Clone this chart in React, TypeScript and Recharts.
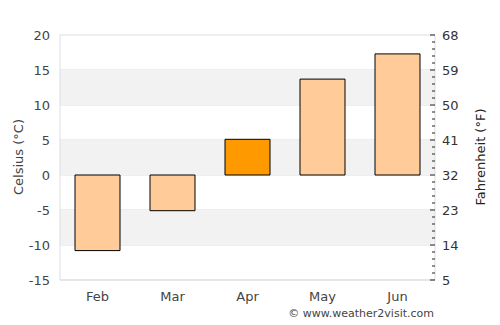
import { ComposedChart, Bar, Line, XAxis, YAxis, CartesianGrid, ReferenceArea, Cell } from "recharts";

const months = ["Feb", "Mar", "Apr", "May", "Jun"];
const celsius = [-10.8, -5.1, 5.1, 13.7, 17.3];
const highlightMonth = "Apr";

const celsiusTicks = [-15, -10, -5, 0, 5, 10, 15, 20];
// one mark per °C on the Fahrenheit side, labels every 9 °F
const fahrenheitMarks = Array.from({ length: 36 }, (_, i) => 5 + i * 1.8);
const shadedBands = [
  [10, 15],
  [0, 5],
  [-10, -5],
];

const data = months.map((m, i) => ({
  month: m,
  temp: celsius[i],
  tempF: celsius[i] * 1.8 + 32,
}));

const font = "DejaVu Sans, sans-serif";

function FTick(props: any) {
  const { x, y, payload } = props;
  const v = payload.value;
  const steps = (v - 5) / 9;
  const major = Math.abs(steps - Math.round(steps)) < 1e-6;
  return (
    <g>
      <line x1={x - (major ? 5 : 3)} x2={x} y1={y} y2={y} stroke="#222" strokeWidth={1} />
      {major && (
        <text x={x + 7} y={y} dy="0.35em" fontSize={13} fill="#333" fontFamily={font}>
          {Math.round(v)}
        </text>
      )}
    </g>
  );
}

export default function App() {
  return (
    <div style={{ position: "relative", width: 500, height: 325, margin: -8, fontFamily: font }}>
      <ComposedChart
        width={500}
        height={325}
        data={data}
        margin={{ top: 35, right: 0, bottom: 15, left: 0 }}
      >
        {shadedBands.map(([y1, y2]) => (
          <ReferenceArea
            key={y1}
            yAxisId="c"
            y1={y1}
            y2={y2}
            fill="#f2f2f2"
            fillOpacity={1}
            stroke="none"
          />
        ))}
        <CartesianGrid vertical={false} stroke="#dddddd" yAxisId="c" />
        <XAxis
          dataKey="month"
          height={30}
          axisLine={{ stroke: "#dddddd" }}
          tickLine={false}
          tickSize={0}
          tickMargin={12}
          tick={{ fill: "#444", fontSize: 13, fontFamily: font }}
        />
        <YAxis
          yAxisId="c"
          width={60}
          domain={[-15, 20]}
          ticks={celsiusTicks}
          interval={0}
          axisLine={{ stroke: "#dddddd" }}
          tickLine={false}
          tickSize={0}
          tickMargin={10}
          tick={{ fill: "#444", fontSize: 13, fontFamily: font }}
        />
        <YAxis
          yAxisId="f"
          orientation="right"
          width={65}
          domain={[5, 68]}
          allowDataOverflow
          ticks={fahrenheitMarks}
          interval={0}
          axisLine={{ stroke: "#dddddd" }}
          tickLine={false}
          tickSize={0}
          tickMargin={0}
          tick={<FTick />}
        />
        <Bar yAxisId="c" dataKey="temp" barSize={45} stroke="#000" strokeWidth={1} isAnimationActive={false}>
          {data.map((d) => (
            <Cell key={d.month} fill={d.month === highlightMonth ? "#ff9900" : "#ffcc99"} />
          ))}
        </Bar>
        <Line
          yAxisId="f"
          dataKey="tempF"
          stroke="none"
          dot={false}
          activeDot={false}
          legendType="none"
          isAnimationActive={false}
        />
      </ComposedChart>
      <svg
        width={500}
        height={325}
        style={{ position: "absolute", left: 0, top: 0, pointerEvents: "none" }}
      >
        <text
          transform="translate(23,157) rotate(-90)"
          textAnchor="middle"
          fontSize={13}
          fill="#444"
          fontFamily={font}
        >
          Celsius (°C)
        </text>
        <text
          transform="translate(485,157) rotate(-90)"
          textAnchor="middle"
          fontSize={13}
          fill="#222"
          fontFamily={font}
        >
          Fahrenheit (°F)
        </text>
        <text x={434} y={317} textAnchor="end" fontSize={11} fill="#444" fontFamily={font}>
          © www.weather2visit.com
        </text>
      </svg>
    </div>
  );
}
